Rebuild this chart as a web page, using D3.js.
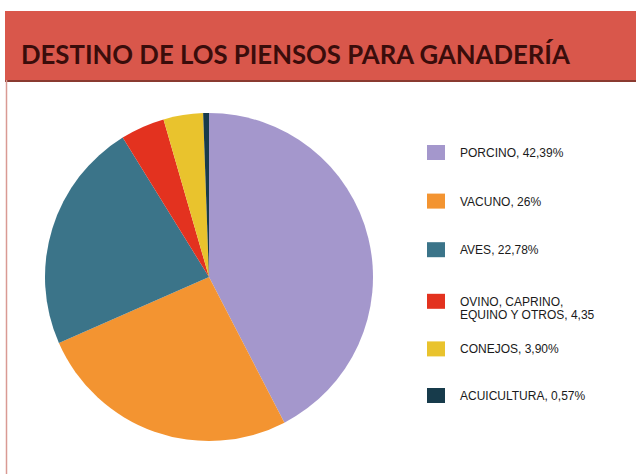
<!DOCTYPE html>
<html><head><meta charset="utf-8">
<script src="https://cdn.jsdelivr.net/npm/d3@7"></script>
<style>html,body{margin:0;padding:0;background:#fff;}svg{display:block;}</style>
</head><body>
<svg id="c" width="636" height="474"></svg>
<script>
const title = "DESTINO DE LOS PIENSOS PARA GANADERÍA";
const categories = ["PORCINO", "VACUNO", "AVES", "OVINO, CAPRINO, EQUINO Y OTROS", "CONEJOS", "ACUICULTURA"];
const values = [42.39, 26, 22.78, 4.35, 3.90, 0.57];
const legendLabels = [["PORCINO, 42,39%"], ["VACUNO, 26%"], ["AVES, 22,78%"], ["OVINO, CAPRINO,", "EQUINO Y OTROS, 4,35"], ["CONEJOS, 3,90%"], ["ACUICULTURA, 0,57%"]];
const colors = ["#a497cc", "#f39431", "#3b7489", "#e3321f", "#e9c32d", "#173b4b"];

const svg = d3.select("#c");
// frame
svg.append("rect").attr("x", 5).attr("y", 11).attr("width", 631).attr("height", 69).attr("fill", "#d9574b");
svg.append("line").attr("x1", 5).attr("x2", 636).attr("y1", 81).attr("y2", 81).attr("stroke", "#8a3a30").attr("stroke-width", 2);
svg.append("line").attr("x1", 6.5).attr("x2", 6.5).attr("y1", 80).attr("y2", 474).attr("stroke", "#d99a94").attr("stroke-width", 1.5);
const tt = svg.append("text").attr("x", 21).attr("y", 64).attr("fill", "#3a0d0b")
  .attr("font-family", "Lato, 'Open Sans', sans-serif").attr("font-weight", "bold").attr("font-size", 28)
  .text(title);
const nat = tt.node().getComputedTextLength();
if (nat > 549) tt.attr("font-size", 28 * 549 / nat);

// pie
const cx = 209, cy = 277, r = 164;
const pie = d3.pie().sort(null).value(d => d)(values);
const arc = d3.arc().innerRadius(0).outerRadius(r);
svg.append("g").attr("transform", `translate(${cx},${cy})`)
  .selectAll("path").data(pie).join("path")
  .attr("d", arc).attr("fill", (d, i) => colors[i]);

// legend
const ly = d3.scalePoint().domain(d3.range(categories.length)).range([152, 395]);
const lg = svg.append("g");
categories.forEach((c, i) => {
  const y = ly(i) + (i === 3 ? 3 : 0) + (i === 4 ? 2 : 0);
  lg.append("rect").attr("x", 427).attr("y", y - 7).attr("width", 18).attr("height", 15).attr("fill", colors[i]);
  legendLabels[i].forEach((t, j) => {
    lg.append("text").attr("x", 460).attr("y", y + 5 + j * 13).attr("fill", "#1a1a1a")
      .attr("font-family", "'Liberation Sans', Arial, sans-serif").attr("font-size", 12).text(t);
  });
});
</script>
</body></html>
